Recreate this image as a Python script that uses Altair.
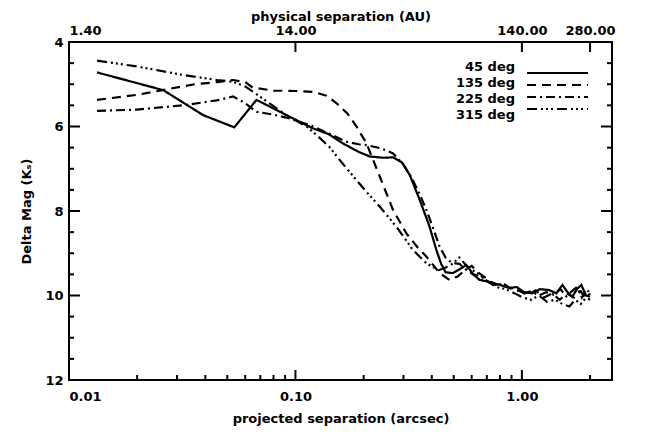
import altair as alt
import pandas as pd

# ---- data ----
angles = ["45 deg", "135 deg", "225 deg", "315 deg"]

sep_45 = [0.0133, 0.0261, 0.0391, 0.0537, 0.0673, 0.0944, 0.119, 0.140, 0.162, 0.190, 0.213, 0.245,
          0.270, 0.295, 0.320, 0.354, 0.390, 0.419, 0.440, 0.460, 0.495, 0.530, 0.569, 0.610, 0.650,
          0.720, 0.800, 0.880, 0.950, 1.02, 1.11, 1.20, 1.32, 1.42, 1.51, 1.59, 1.67, 1.75, 1.83, 1.92, 2.0]
mag_45 = [4.72, 5.14, 5.73, 6.02, 5.37, 5.77, 6.04, 6.18, 6.40, 6.60, 6.71, 6.74,
          6.73, 6.85, 7.15, 7.74, 8.35, 8.92, 9.25, 9.45, 9.47, 9.38, 9.28, 9.50, 9.63,
          9.68, 9.75, 9.82, 9.80, 9.92, 9.95, 9.85, 9.87, 9.95, 9.75, 9.92, 10.03, 9.85, 9.75, 10.0, 10.03]

sep_135 = [0.0133, 0.020, 0.027, 0.036, 0.045, 0.053, 0.060, 0.0648, 0.080, 0.100, 0.120, 0.137, 0.152,
           0.170, 0.186, 0.206, 0.236, 0.270, 0.309, 0.345, 0.379, 0.433, 0.479, 0.52, 0.56, 0.60, 0.64,
           0.70, 0.76, 0.83, 0.90, 0.98, 1.06, 1.15, 1.25, 1.36, 1.47, 1.58, 1.70, 1.82, 1.92, 2.0]
mag_135 = [5.37, 5.25, 5.12, 5.0, 4.95, 4.90, 4.95, 5.08, 5.15, 5.16, 5.18, 5.27, 5.45,
           5.70, 6.00, 6.40, 7.19, 7.98, 8.53, 8.85, 9.08, 9.47, 9.63, 9.55, 9.40, 9.30, 9.45,
           9.60, 9.75, 9.72, 9.85, 9.90, 9.98, 9.88, 10.05, 9.95, 10.10, 9.95, 10.05, 9.90, 10.08, 9.95]

sep_225 = [0.0133, 0.020, 0.033, 0.045, 0.0531, 0.060, 0.0673, 0.080, 0.0944, 0.120, 0.145, 0.167,
           0.190, 0.206, 0.240, 0.270, 0.300, 0.330, 0.355, 0.379, 0.405, 0.433, 0.46, 0.49, 0.53,
           0.57, 0.61, 0.66, 0.72, 0.79, 0.86, 0.94, 1.02, 1.10, 1.19, 1.28, 1.38, 1.48, 1.57, 1.66,
           1.75, 1.84, 1.93, 2.0]
mag_225 = [5.63, 5.60, 5.49, 5.38, 5.29, 5.45, 5.65, 5.72, 5.81, 6.00, 6.20, 6.36,
           6.42, 6.44, 6.52, 6.64, 6.90, 7.27, 7.62, 7.98, 8.40, 8.84, 9.10, 9.23, 9.25,
           9.40, 9.50, 9.55, 9.70, 9.72, 9.80, 9.85, 9.95, 9.90, 10.0, 9.92, 9.98, 9.85, 10.02, 9.90,
           9.80, 10.05, 9.85, 9.95]

sep_315 = [0.0133, 0.020, 0.0319, 0.045, 0.053, 0.060, 0.070, 0.080, 0.091, 0.100, 0.112, 0.125,
           0.141, 0.160, 0.186, 0.210, 0.236, 0.279, 0.330, 0.379, 0.43, 0.48, 0.53, 0.58, 0.63,
           0.70, 0.77, 0.85, 0.93, 1.01, 1.10, 1.19, 1.29, 1.40, 1.51, 1.62, 1.72, 1.82, 1.92, 2.0]
mag_315 = [4.44, 4.58, 4.78, 4.90, 4.94, 5.05, 5.30, 5.52, 5.73, 5.85, 6.00, 6.22,
           6.48, 6.85, 7.27, 7.60, 7.90, 8.37, 8.92, 9.24, 9.40, 9.30, 9.10, 9.35, 9.45,
           9.65, 9.80, 9.85, 9.95, 10.05, 10.10, 10.0, 10.15, 10.10, 10.20, 10.26, 10.10, 10.20, 10.05, 10.10]

x_major = [0.01, 0.1, 1.0]
x_minor = [0.02, 0.03, 0.04, 0.05, 0.06, 0.07, 0.08, 0.09,
           0.2, 0.3, 0.4, 0.5, 0.6, 0.7, 0.8, 0.9, 2.0]
x_top = [0.01, 0.1, 1.0, 2.0]
y_major = [4, 6, 8, 10, 12]
y_minor = [4.5, 5, 5.5, 6.5, 7, 7.5, 8.5, 9, 9.5, 10.5, 11, 11.5]

dashes = [[1, 0], [9, 6], [9, 4, 2, 4], [10, 4, 2, 3, 2, 3, 2, 4]]

# ---- build tables ----
rows = []
for name, xs, ys in [("45 deg", sep_45, mag_45), ("135 deg", sep_135, mag_135),
                     ("225 deg", sep_225, mag_225), ("315 deg", sep_315, mag_315)]:
    for x, y in zip(xs, ys):
        rows.append({"angle": name, "sep": x, "dmag": y})
df = pd.DataFrame(rows)

W, H = 543, 338
FONT = "DejaVu Sans"
FS = 13
txt = dict(labelFont=FONT, titleFont=FONT, labelFontSize=FS, titleFontSize=FS,
           labelFontWeight="bold", titleFontWeight="bold", labelColor="black", titleColor="black")

xscale = alt.Scale(type="log", domain=[0.01, 2.5], nice=False)
yscale = alt.Scale(domain=[4, 12], reverse=True, nice=False, zero=False)
dash_scale = alt.Scale(domain=angles, range=dashes)

lines = alt.Chart(df).mark_line(color="black", strokeWidth=2.2).encode(
    x=alt.X("sep:Q", scale=xscale,
            axis=alt.Axis(orient="bottom", values=x_major, format=".2f", ticks=False, tickSize=0,
                          domain=False, grid=False, labelPadding=10, titlePadding=9,
                          title="projected separation (arcsec)", **txt)),
    y=alt.Y("dmag:Q", scale=yscale,
            axis=alt.Axis(values=y_major, format="d", ticks=False, tickSize=0, domain=False,
                          grid=False, labelPadding=6, titlePadding=11,
                          title="Delta Mag (Kₛ)", **txt)),
    strokeDash=alt.StrokeDash("angle:N", scale=dash_scale, legend=None),
)

def tick_df(vals):
    return pd.DataFrame({"v": vals})

tick_style = dict(color="black", strokeWidth=2)

bottom_major = alt.Chart(tick_df(x_major)).mark_rule(**tick_style).encode(
    x=alt.X("v:Q", scale=xscale, axis=None), y=alt.value(H), y2=alt.value(H - 10))
bottom_minor = alt.Chart(tick_df(x_minor)).mark_rule(**tick_style).encode(
    x=alt.X("v:Q", scale=xscale, axis=None), y=alt.value(H), y2=alt.value(H - 5))
top_ticks = alt.Chart(tick_df(x_top)).mark_rule(**tick_style).encode(
    x=alt.X("v:Q", scale=xscale,
            axis=alt.Axis(orient="top", values=x_top, labelExpr="format(datum.value*140, '.2f')",
                          ticks=False, tickSize=0, domain=False, grid=False, labelPadding=5,
                          titlePadding=1, labelFlush=True, title="physical separation (AU)", **txt)),
    y=alt.value(0), y2=alt.value(10))
left_major = alt.Chart(tick_df(y_major)).mark_rule(**tick_style).encode(
    y=alt.Y("v:Q", scale=yscale, axis=None), x=alt.value(0), x2=alt.value(11))
left_minor = alt.Chart(tick_df(y_minor)).mark_rule(**tick_style).encode(
    y=alt.Y("v:Q", scale=yscale, axis=None), x=alt.value(0), x2=alt.value(5))
right_major = alt.Chart(tick_df(y_major)).mark_rule(**tick_style).encode(
    y=alt.Y("v:Q", scale=yscale, axis=None), x=alt.value(W), x2=alt.value(W - 11))
right_minor = alt.Chart(tick_df(y_minor)).mark_rule(**tick_style).encode(
    y=alt.Y("v:Q", scale=yscale, axis=None), x=alt.value(W), x2=alt.value(W - 5))

leg_df = pd.DataFrame({"angle": angles})
leg_y = alt.Y("angle:N", scale=alt.Scale(domain=angles, range=[25, 73], padding=0), axis=None)
leg_text = alt.Chart(leg_df).mark_text(align="right", baseline="middle", font=FONT,
                                       fontSize=FS, fontWeight="bold", color="black").encode(
    text="angle:N", x=alt.value(446), y=leg_y)
leg_rule = alt.Chart(leg_df).mark_rule(color="black", strokeWidth=2.2).encode(
    x=alt.value(458), x2=alt.value(519), y=leg_y,
    strokeDash=alt.StrokeDash("angle:N", scale=dash_scale, legend=None))

chart = alt.layer(
    lines, top_ticks, bottom_major, bottom_minor, left_major, left_minor,
    right_major, right_minor, leg_text, leg_rule
).resolve_scale(y="independent").resolve_axis(x="independent").properties(
    width=W, height=H,
    background="white",
    autosize=alt.AutoSizeParams(type="none"),
    padding={"left": 61, "top": 34, "right": 20, "bottom": 50},
).configure_view(stroke="black", strokeWidth=2)

chart.save("out.html", embed_options={"renderer": "svg", "actions": False})
